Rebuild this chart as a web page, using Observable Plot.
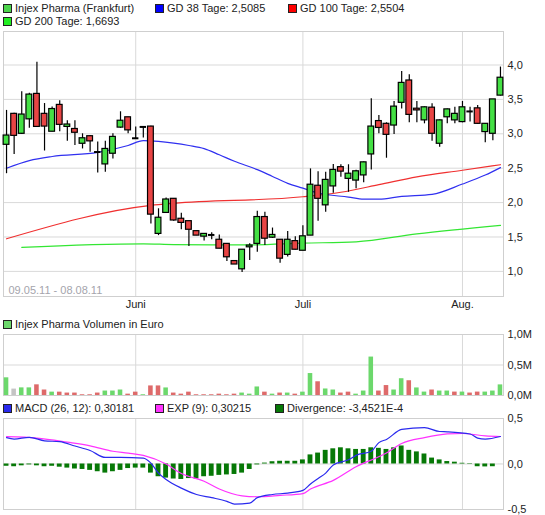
<!DOCTYPE html>
<html><head><meta charset="utf-8">
<script src="https://cdn.jsdelivr.net/npm/d3@7"></script>
<script src="https://cdn.jsdelivr.net/npm/@observablehq/plot@0.6"></script>
<style>
body{margin:0;background:#fff;font-family:"Liberation Sans",Arial,sans-serif;}
#wrap{position:relative;width:545px;height:515px;overflow:hidden;background:#fff;}
.leg{position:absolute;font-size:11px;color:#222;white-space:nowrap;line-height:12px;height:12px;}
.sw{display:inline-block;width:7px;height:7px;border:1px solid #222;vertical-align:-1px;margin-right:3px;}
.panel{position:absolute;left:0;}
</style></head><body><div id="wrap"></div>
<script>
// ---- data ----
const dates = ["09.05.11","10.05.11","11.05.11","12.05.11","13.05.11","16.05.11","17.05.11","18.05.11","19.05.11","20.05.11","23.05.11","24.05.11","25.05.11","26.05.11","27.05.11","30.05.11","31.05.11",
"01.06.11","02.06.11","03.06.11","06.06.11","07.06.11","08.06.11","09.06.11","10.06.11","13.06.11","14.06.11","15.06.11","16.06.11","17.06.11","20.06.11","21.06.11","22.06.11","23.06.11","24.06.11","27.06.11","28.06.11","29.06.11","30.06.11",
"01.07.11","04.07.11","05.07.11","06.07.11","07.07.11","08.07.11","11.07.11","12.07.11","13.07.11","14.07.11","15.07.11","18.07.11","19.07.11","20.07.11","21.07.11","22.07.11","25.07.11","26.07.11","27.07.11","28.07.11","29.07.11",
"01.08.11","02.08.11","03.08.11","04.08.11","05.08.11","08.08.11"];
const open  = [2.84,3.29,3.00,3.21,3.58,3.29,3.03,3.42,3.10,3.07,2.855,2.965,2.735,2.555,2.71,3.09,3.24,2.935,3.10,3.105,1.545,1.85,2.055,1.765,1.73,1.585,1.505,1.53,1.46,1.40,1.15,1.03,1.35,1.40,1.79,1.49,1.46,1.24,1.44,1.30,1.52,2.245,1.96,2.235,2.515,2.345,2.32,2.395,2.70,3.185,3.145,3.12,3.45,3.775,3.365,3.195,3.38,2.855,3.24,3.195,3.17,3.325,3.37,3.025,3.00,3.555];
const high  = [3.34,3.30,3.61,3.59,4.04,3.44,3.39,3.48,3.19,3.19,3.00,2.97,2.88,2.89,3.00,3.32,3.24,3.10,3.10,3.11,1.91,2.065,2.06,1.845,1.73,1.585,1.55,1.56,1.53,1.40,1.15,1.315,1.40,1.875,1.86,1.63,1.46,1.58,1.505,1.665,2.49,2.45,2.44,2.555,2.55,2.55,2.47,2.59,3.51,3.265,3.16,3.47,3.905,3.86,3.47,3.39,3.435,3.20,3.36,3.385,3.47,3.385,3.41,3.15,3.50,3.97];
const low   = [2.42,2.70,2.99,3.08,3.09,2.75,3.03,3.03,2.89,2.83,2.78,2.73,2.43,2.44,2.635,3.08,3.00,2.93,2.94,1.69,1.52,1.85,1.73,1.605,1.36,1.52,1.44,1.46,1.33,1.145,1.10,0.985,1.16,1.28,1.375,1.48,1.12,1.21,1.31,1.30,1.52,1.73,1.86,2.135,2.37,2.15,2.20,2.29,2.475,3.00,2.645,2.99,3.36,3.16,3.16,3.145,2.89,2.805,3.145,3.145,3.16,3.17,3.14,2.87,2.90,3.55];
const close = [2.975,2.97,3.28,3.57,3.10,3.105,3.36,3.13,3.135,3.015,2.935,2.89,2.735,2.78,2.955,3.19,3.05,2.935,3.10,1.825,1.78,2.045,1.74,1.705,1.605,1.52,1.545,1.53,1.33,1.205,1.10,1.315,1.375,1.79,1.475,1.53,1.185,1.46,1.315,1.51,2.26,2.055,2.33,2.475,2.45,2.42,2.455,2.585,3.105,3.085,2.985,3.395,3.74,3.275,3.34,3.385,3.00,3.195,3.355,3.29,3.385,3.325,3.145,3.145,3.50,3.815];

// moving averages read at sampled trading-day indices
const gd38Idx  = [0,3,6,12,16,18,20,22,24,26,28,30,33,35,37,39,41,45,47,49,52,56,60,63,65];
const gd38Val  = [2.50,2.61,2.67,2.73,2.83,2.90,2.89,2.865,2.83,2.785,2.695,2.60,2.48,2.38,2.28,2.21,2.14,2.08,2.05,2.05,2.09,2.12,2.27,2.40,2.5085];
const gd100Idx = [0,19,22,39,44,49,54,60,65];
const gd100Val = [1.474,1.96,1.99,2.085,2.15,2.26,2.375,2.47,2.5504];
const gd200Idx = [2,18,22,32,39,46,54,65];
const gd200Val = [1.35,1.40,1.39,1.385,1.41,1.43,1.545,1.6693];

// volume in million euro and direction vs. previous close
const volume = [0.29,0.105,0.125,0.125,0.175,0.09,0.055,0.055,0.04,0.04,0.012,0.012,0.04,0.073,0.073,0.09,0.022,0.055,0.012,0.157,0.157,0.124,0.04,0.022,0.055,0.012,0.012,0.012,0.022,0.012,0.022,0.04,0.022,0.14,0.055,0.022,0.04,0.04,0.022,0.055,0.36,0.225,0.107,0.09,0.04,0.055,0.022,0.073,0.63,0.073,0.163,0.09,0.275,0.242,0.124,0.056,0.09,0.073,0.073,0.056,0.056,0.04,0.056,0.056,0.073,0.174];
const volDir = ["u","n","u","u","d","d","u","d","d","d","d","d","d","u","u","u","d","d","u","d","d","u","d","d","d","d","d","d","d","d","d","u","u","u","d","u","d","u","d","u","u","d","u","u","d","d","u","u","u","d","d","u","u","d","u","u","d","u","u","d","u","d","d","u","u","u"];

// MACD
const macdIdx = [0,1,3,5,7,9,11,13,15,18,19,20,21,23,25,27,29,30,32,33,35,37,39,40,41,42,43,45,46,48,49,50,52,55,57,58,61,62,63,65];
const macdVal = [0.29,0.274,0.293,0.255,0.245,0.198,0.148,0.072,0.072,0.065,0.01,-0.10,-0.17,-0.265,-0.335,-0.37,-0.41,-0.44,-0.43,-0.37,-0.335,-0.32,-0.29,-0.22,-0.16,-0.10,-0.01,0.046,0.095,0.14,0.235,0.27,0.38,0.40,0.357,0.354,0.33,0.285,0.274,0.30181];
const expIdx = [0,4,8,11,14,16,18,21,23,26,28,31,33,36,39,40,43,46,50,52,55,58,60,63,65];
const expVal = [0.30,0.285,0.24,0.20,0.14,0.12,0.095,0.0,-0.105,-0.19,-0.275,-0.35,-0.36,-0.345,-0.325,-0.275,-0.18,-0.03,0.12,0.225,0.29,0.33,0.335,0.31,0.30215];
const divergence = [-0.025,-0.03,-0.02,-0.01,-0.02,-0.03,-0.025,-0.035,-0.045,-0.055,-0.06,-0.07,-0.085,-0.10,-0.085,-0.07,-0.05,-0.045,-0.045,-0.10,-0.14,-0.155,-0.165,-0.17,-0.16,-0.165,-0.14,-0.135,-0.125,-0.12,-0.115,-0.10,-0.06,-0.01,0.01,0.025,0.03,0.03,0.03,0.045,0.10,0.12,0.15,0.167,0.178,0.167,0.16,0.16,0.178,0.172,0.16,0.178,0.198,0.15,0.133,0.11,0.065,0.045,0.027,0.02,0.008,-0.005,-0.03,-0.032,-0.03,-0.0003];

const monthLabels = ["Juni","Juli","Aug."];
const monthStarts = ["01.06.11","01.07.11","01.08.11"];
const priceTicks = [1.0,1.5,2.0,2.5,3.0,3.5,4.0];
const volTicks = [0,0.5,1.0];
const macdTicks = [-0.5,0,0.5];
const rangeLabel = "09.05.11 - 08.08.11";

// ---- build ----
const FONT = '"Liberation Sans",Arial,sans-serif';
const xDom = [-0.4, 65.4];
const GRID = "#d9d9d9";
const fmt1 = v => v.toFixed(1).replace(".", ",").replace("-0,0","0,0");
const monthIdx = monthStarts.map(d => dates.indexOf(d));
const months = monthLabels.map((label, k) => ({i: monthIdx[k], label}));
const candles = dates.map((d, i) => ({i, o: open[i], h: high[i], l: low[i], c: close[i]}));
const pts = (idx, val) => idx.map((i, k) => ({i, v: val[k]}));
const style = {fontFamily: FONT, fontSize: "11px", color: "#222", background: "transparent", overflow: "visible"};
const wrap = document.getElementById("wrap");

function place(svg, top) {
  svg.classList.add("panel");
  svg.style.top = top + "px";
  wrap.appendChild(svg);
}
function legend(x, cy, color, text) {
  const d = document.createElement("div");
  d.className = "leg";
  d.style.left = x + "px";
  d.style.top = (cy - 6) + "px";
  d.innerHTML = `<span class="sw" style="background:${color}"></span>${text}`;
  wrap.appendChild(d);
}

const PMIN = 0.635, PMAX = 4.487;
const price = Plot.plot({
  width: 545, height: 285, marginTop: 3, marginBottom: 17, marginLeft: 3, marginRight: 42,
  style,
  x: {type: "linear", domain: xDom, axis: null},
  y: {domain: [PMIN, PMAX], axis: null},
  marks: [
    Plot.ruleY(priceTicks, {stroke: GRID}),
    Plot.ruleX(monthIdx, {stroke: GRID}),
    Plot.frame({stroke: "#cfcfcf"}),
    Plot.text(priceTicks, {x: xDom[1], y: d => d, text: d => fmt1(d), textAnchor: "start", dx: 4, fill: "#222"}),
    Plot.text(months, {x: "i", y: PMIN, text: "label", dy: 8, fill: "#222"}),
    Plot.text([rangeLabel], {x: xDom[0], y: PMIN, text: d => d, textAnchor: "start", dx: 5, dy: -6, fill: "#a4a4ac"}),
    Plot.line(pts(gd200Idx, gd200Val), {x: "i", y: "v", stroke: "#33e633", strokeWidth: 1.2, curve: "monotone-x"}),
    Plot.line(pts(gd100Idx, gd100Val), {x: "i", y: "v", stroke: "#f03030", strokeWidth: 1.2, curve: "monotone-x"}),
    Plot.line(pts(gd38Idx, gd38Val), {x: "i", y: "v", stroke: "#3030f0", strokeWidth: 1.2, curve: "monotone-x"}),
    Plot.ruleX(candles, {x: "i", y1: "l", y2: "h", stroke: "#000", strokeWidth: 1.2}),
    Plot.rect(candles.filter(d => d.o !== d.c), {x1: d => d.i - 0.38, x2: d => d.i + 0.38, y1: "o", y2: "c",
      fill: d => d.c > d.o ? "#44e044" : "#e84444", stroke: "#000", strokeWidth: 1.2}),
    Plot.ruleY(candles.filter(d => d.o === d.c), {x1: d => d.i - 0.42, x2: d => d.i + 0.42, y: "c", stroke: "#000", strokeWidth: 2})
  ]
});
place(price, 28);

const volRows = volume.map((v, i) => ({i, v, dir: volDir[i]}));
const volColor = {u: "#6cd86c", d: "#de6a6a", n: "#c4c4c4"};
const vol = Plot.plot({
  width: 545, height: 70, marginTop: 4, marginBottom: 5, marginLeft: 3, marginRight: 42,
  style,
  x: {type: "linear", domain: xDom, axis: null},
  y: {domain: [0, 1.0], axis: null},
  marks: [
    Plot.ruleY([0.5], {stroke: GRID}),
    Plot.ruleX(monthIdx, {stroke: GRID}),
    Plot.frame({stroke: "#cfcfcf"}),
    Plot.rect(volRows, {x1: d => d.i - 0.3, x2: d => d.i + 0.3, y1: 0, y2: "v", fill: d => volColor[d.dir]}),
    Plot.text(volTicks, {x: xDom[1], y: d => d, text: d => fmt1(d) + "M", textAnchor: "start", dx: 4, fill: "#222"})
  ]
});
place(vol, 330);

const divRows = divergence.map((v, i) => ({i, v}));
const macd = Plot.plot({
  width: 545, height: 100, marginTop: 4, marginBottom: 5, marginLeft: 3, marginRight: 42,
  style,
  x: {type: "linear", domain: xDom, axis: null},
  y: {domain: [-0.5, 0.5], axis: null},
  marks: [
    Plot.ruleY([0], {stroke: GRID}),
    Plot.ruleX(monthIdx, {stroke: GRID}),
    Plot.frame({stroke: "#cfcfcf"}),
    Plot.rect(divRows, {x1: d => d.i - 0.32, x2: d => d.i + 0.32, y1: 0, y2: "v", fill: "#067806"}),
    Plot.line(pts(expIdx, expVal), {x: "i", y: "v", stroke: "#ff33ff", strokeWidth: 1.2, curve: "monotone-x"}),
    Plot.line(pts(macdIdx, macdVal), {x: "i", y: "v", stroke: "#2a2aee", strokeWidth: 1.2, curve: "monotone-x"}),
    Plot.text(macdTicks, {x: xDom[1], y: d => d, text: d => fmt1(d), textAnchor: "start", dx: 4, fill: "#222"})
  ]
});
place(macd, 414);

legend(3, 8, "#4cd44c", "Injex Pharma (Frankfurt)");
legend(155, 8, "#0000ff", "GD 38 Tage: 2,5085");
legend(288, 8, "#ff0000", "GD 100 Tage: 2,5504");
legend(3, 21, "#22ee22", "GD 200 Tage: 1,6693");
legend(3, 324, "#6cd86c", "Injex Pharma Volumen in Euro");
legend(3, 408, "#2a2aee", "MACD (26, 12): 0,30181");
legend(155, 408, "#ff33ff", "EXP (9): 0,30215");
legend(275, 408, "#067806", "Divergence: -3,4521E-4");
</script></body></html>
